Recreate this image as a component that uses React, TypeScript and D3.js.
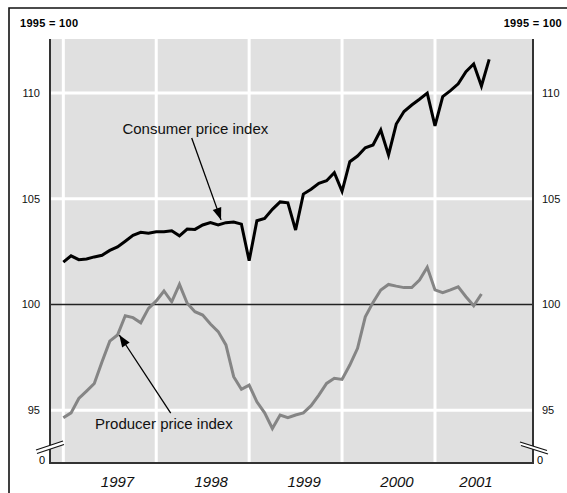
import React from "react";
import * as d3 from "d3";

const cpi = [
  102.0, 102.3, 102.12, 102.15, 102.25, 102.33, 102.56, 102.72, 102.99, 103.27, 103.41, 103.37,
  103.44, 103.44, 103.49, 103.25, 103.57, 103.55, 103.76, 103.87, 103.76, 103.87, 103.9, 103.8,
  102.07, 103.96, 104.07, 104.5, 104.85, 104.81, 103.52, 105.22, 105.45, 105.73, 105.85, 106.23,
  105.35, 106.75, 107.02, 107.41, 107.54, 108.25, 107.07, 108.53, 109.12, 109.43, 109.7, 109.99,
  108.44, 109.83, 110.11, 110.43, 111.01, 111.37, 110.33, 111.59,
];
const ppi = [
  94.65, 94.88, 95.56, 95.91, 96.27, 97.3, 98.27, 98.56, 99.47, 99.38, 99.14, 99.82,
  100.17, 100.64, 100.13, 100.95, 100.06, 99.66, 99.5, 99.08, 98.72, 98.09, 96.59, 95.99,
  96.19, 95.4, 94.88, 94.14, 94.78, 94.65, 94.78, 94.88, 95.22, 95.72, 96.27, 96.51,
  96.46, 97.14, 97.93, 99.42, 100.1, 100.69, 100.95, 100.87, 100.8, 100.8, 101.16, 101.76,
  100.69, 100.56, 100.69, 100.84, 100.37, 99.94, 100.5,
];
const yearLabels = ["1997", "1998", "1999", "2000", "2001"];
const yearLabelMonths = [7, 19.1, 31.1, 43.1, 53.3];
const gridMonths = [0, 12, 24, 36, 48];
const yTicks = [95, 100, 105, 110];
const whiteGridValues = [95, 105, 110];
const baseTitle = "1995 = 100";

const W = 567;
const H = 493;
const L = 50, R = 533, T = 39, B = 463;

export default function App() {
  const x = d3.scaleLinear().domain([-1.72, 60.66]).range([L, R]);
  const y = d3.scaleLinear().domain([92.51, 112.55]).range([B, T]);
  const line = d3
    .line<number>()
    .x((_, i) => x(i))
    .y((d) => y(d))
    .curve(d3.curveLinear);

  const font = "'Liberation Sans', Arial, Helvetica, sans-serif";

  const cpiArrow = { x1: x(16.58), y1: y(107.87), x2: x(20.37), y2: y(104.0) };
  const ppiArrow = { x1: x(13.87), y1: y(94.87), x2: x(7.23), y2: y(98.56) };

  const arrowHead = (a: { x1: number; y1: number; x2: number; y2: number }) => {
    const ang = Math.atan2(a.y2 - a.y1, a.x2 - a.x1);
    const len = 12, half = 4.5;
    const bx = a.x2 - len * Math.cos(ang);
    const by = a.y2 - len * Math.sin(ang);
    const px = -Math.sin(ang) * half;
    const py = Math.cos(ang) * half;
    return `M${a.x2},${a.y2}L${bx + px},${by + py}L${bx - px},${by - py}Z`;
  };

  return (
    <svg
      width={W}
      height={H}
      style={{ position: "absolute", left: 0, top: 0, display: "block", background: "#fff" }}
      fontFamily={font}
    >
      {/* outer frame */}
      <path d={`M9,${H + 5}L9,8L${W + 5},8`} fill="none" stroke="#111" strokeWidth={1.6} />
      <text x={20} y={27} fontSize={11} fontWeight="bold" letterSpacing={0.3}>{baseTitle}</text>
      <text x={562} y={27} fontSize={11} fontWeight="bold" letterSpacing={0.3} textAnchor="end">{baseTitle}</text>

      {/* plot background */}
      <rect x={L} y={T} width={R - L} height={B - T} fill="#e0e0e0" />
      {whiteGridValues.map((v) => (
        <line key={"h" + v} x1={L} x2={R} y1={y(v)} y2={y(v)} stroke="#fff" strokeWidth={3} />
      ))}
      {gridMonths.map((m) => (
        <line key={"v" + m} x1={x(m)} x2={x(m)} y1={T} y2={B} stroke="#fff" strokeWidth={3} />
      ))}
      <line x1={L} x2={R} y1={y(100)} y2={y(100)} stroke="#222" strokeWidth={1.6} />

      {/* series */}
      <path d={line(ppi) || ""} fill="none" stroke="#858585" strokeWidth={3} strokeLinejoin="miter" />
      <path d={line(cpi) || ""} fill="none" stroke="#000" strokeWidth={3} strokeLinejoin="miter" />

      {/* plot border */}
      <path d={`M${L},${T}L${L},${B}L${R},${B}L${R},${T}`} fill="none" stroke="#333" strokeWidth={2} />

      {/* y labels */}
      {yTicks.map((v) => (
        <g key={"yl" + v} fontSize={11} fill="#111">
          <text x={40} y={y(v)} dy="0.36em" textAnchor="end">{v}</text>
          <text x={542} y={y(v)} dy="0.36em">{v}</text>
        </g>
      ))}
      <text x={45} y={463.5} fontSize={11} textAnchor="end">0</text>
      <text x={537} y={463.5} fontSize={11}>0</text>

      {/* axis breaks */}
      <path d="M36,450L63,441L64,444.5L37,453.5Z" fill="#fff" />
      <line x1={36} y1={450} x2={63} y2={441} stroke="#111" strokeWidth={1.3} />
      <line x1={37} y1={453.5} x2={64} y2={444.5} stroke="#111" strokeWidth={1.3} />
      <path d="M520,442L547,450.5L548,454L521,445.5Z" fill="#fff" />
      <line x1={520} y1={442} x2={547} y2={450.5} stroke="#111" strokeWidth={1.3} />
      <line x1={521} y1={445.5} x2={548} y2={454} stroke="#111" strokeWidth={1.3} />

      {/* x labels */}
      {yearLabels.map((lab, i) => (
        <text key={lab} x={x(yearLabelMonths[i])} y={487} fontSize={15} fontStyle="italic" textAnchor="middle" fill="#111">
          {lab}
        </text>
      ))}

      {/* annotations */}
      <text x={x(17.05)} y={y(108.08)} fontSize={15} textAnchor="middle" fill="#111">Consumer price index</text>
      <line x1={cpiArrow.x1} y1={cpiArrow.y1} x2={cpiArrow.x2} y2={cpiArrow.y2} stroke="#000" strokeWidth={1.3} />
      <path d={arrowHead(cpiArrow)} fill="#000" />
      <text x={x(12.99)} y={y(94.13)} fontSize={15} textAnchor="middle" fill="#111">Producer price index</text>
      <line x1={ppiArrow.x1} y1={ppiArrow.y1} x2={ppiArrow.x2} y2={ppiArrow.y2} stroke="#000" strokeWidth={1.3} />
      <path d={arrowHead(ppiArrow)} fill="#000" />
    </svg>
  );
}
